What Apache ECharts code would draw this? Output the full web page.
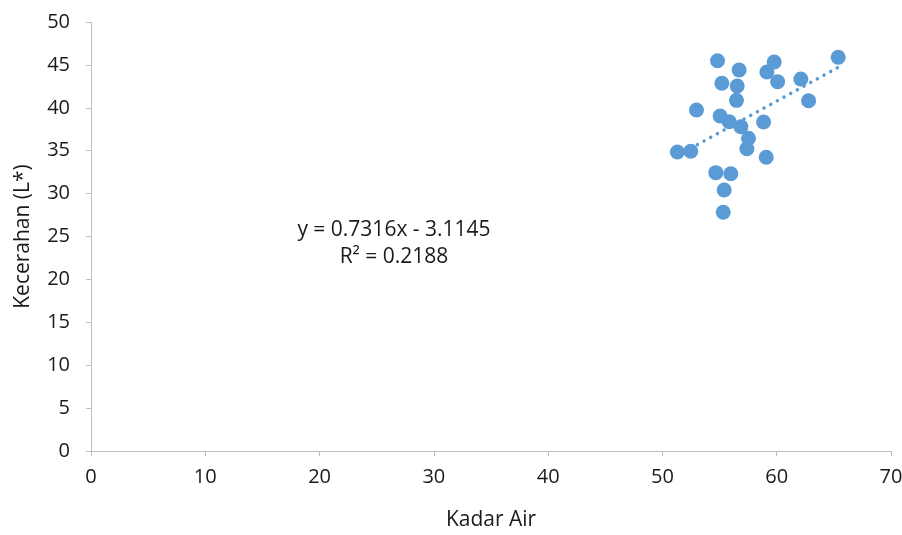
<!DOCTYPE html>
<html>
<head>
<meta charset="utf-8">
<script src="https://cdn.jsdelivr.net/npm/echarts@6/dist/echarts.min.js"></script>
<style>
  html, body { margin: 0; padding: 0; background: #fff; }
  #main { width: 902px; height: 535px; }
</style>
</head>
<body>
<div id="main"></div>
<script>
// kadar air (x) dan kecerahan L* (y)
var kadarAir = [54.82, 56.71, 59.78, 59.14, 65.38, 55.20, 56.54, 60.08, 62.11, 56.48,
                62.79, 52.98, 55.05, 55.84, 56.86, 58.85, 57.53, 57.39, 51.31, 52.48,
                59.08, 54.67, 55.98, 55.40, 55.32];
var kecerahan = [45.49, 44.41, 45.34, 44.18, 45.89, 42.86, 42.54, 43.04, 43.36, 40.87,
                 40.83, 39.74, 39.04, 38.38, 37.80, 38.34, 36.45, 35.23, 34.85, 34.93,
                 34.23, 32.44, 32.32, 30.42, 27.82];
var slope = 0.7316, intercept = -3.1145, r2 = 0.2188;
var xTicks = [0, 10, 20, 30, 40, 50, 60, 70];
var yTicks = [0, 5, 10, 15, 20, 25, 30, 35, 40, 45, 50];

var points = kadarAir.map(function (x, i) { return [x, kecerahan[i]]; });
var xMin = Math.min.apply(null, kadarAir), xMax = Math.max.apply(null, kadarAir);
var trend = [[xMin, slope * xMin + intercept], [xMax, slope * xMax + intercept]];

var font = 'Open Sans';
var txt = '#1a1a1a';
var chart = echarts.init(document.getElementById('main'), null, { renderer: 'canvas' });

var option = {
  animation: false,
  grid: { left: 91, right: 11, top: 22, bottom: 84, outerBoundsMode: 'none', containLabel: false },
  xAxis: {
    type: 'value',
    min: xTicks[0], max: xTicks[xTicks.length - 1], interval: 10,
    name: 'Kadar Air', nameLocation: 'middle', nameGap: 59,
    nameTextStyle: { color: txt, fontSize: 21, fontFamily: font },
    axisLine: { show: true, lineStyle: { color: '#BFBFBF', width: 1 } },
    axisTick: { show: true, length: 5, lineStyle: { color: '#BFBFBF' } },
    axisLabel: { color: txt, fontSize: 20, fontFamily: font, margin: 16 },
    splitLine: { show: false }
  },
  yAxis: {
    type: 'value',
    min: yTicks[0], max: yTicks[yTicks.length - 1], interval: 5,
    name: 'Kecerahan (L*)', nameLocation: 'middle', nameGap: 57,
    nameTextStyle: { color: txt, fontSize: 21, fontFamily: font },
    axisLine: { show: true, lineStyle: { color: '#BFBFBF', width: 1 } },
    axisTick: { show: true, length: 5, lineStyle: { color: '#BFBFBF' } },
    axisLabel: { color: txt, fontSize: 20, fontFamily: font, margin: 21 },
    splitLine: { show: false }
  },
  series: [
    {
      type: 'line',
      data: trend,
      symbol: 'none',
      z: 1,
      lineStyle: { color: '#5B9BD5', width: 3.5, type: [0.1, 7.5], cap: 'round' }
    },
    {
      type: 'scatter',
      data: points,
      symbolSize: 15,
      z: 2,
      itemStyle: { color: '#5B9BD5', opacity: 1 }
    }
  ],
  graphic: [
    {
      type: 'text', x: 394, y: 230,
      style: { text: 'y = ' + slope + 'x - ' + (-intercept), fill: txt,
               font: '21px "' + font + '"', align: 'center', verticalAlign: 'middle' }
    },
    {
      type: 'text', x: 394, y: 257,
      style: { text: 'R² = ' + r2, fill: txt,
               font: '21px "' + font + '"', align: 'center', verticalAlign: 'middle' }
    }
  ]
};
chart.setOption(option);
</script>
</body>
</html>
